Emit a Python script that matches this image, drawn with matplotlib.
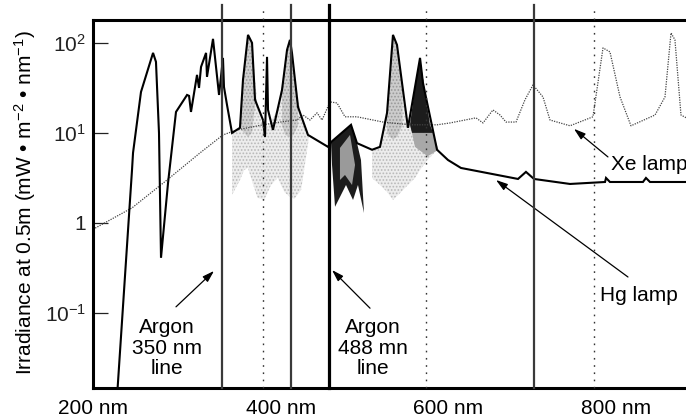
import numpy as np
import matplotlib
matplotlib.use("Agg")
import matplotlib.pyplot as plt
import matplotlib.transforms as mtransforms

plt.rcParams['font.family'] = ['Liberation Sans', 'DejaVu Sans']
plt.rcParams['mathtext.fontset'] = 'custom'
plt.rcParams['mathtext.rm'] = 'Liberation Sans'
plt.rcParams['mathtext.it'] = 'Liberation Sans:italic'
plt.rcParams['mathtext.bf'] = 'Liberation Sans:bold'
plt.rcParams['hatch.linewidth'] = 0.8

# ---------------- data (wavelength in nm, irradiance in mW m^-2 nm^-1) ----------------
hg_nm = [204, 219.7, 222.1, 223.3, 232.8, 247.2, 250.7, 254.3, 256.7, 265.1, 274.6, 287.8,
         290.2, 292.5, 299.7, 302.1, 304.5, 310.5, 311.6, 318.8, 326.0, 330.7, 331.9, 335.5,
         341.5, 351.0, 354.6, 360.6, 365.4, 369.0, 378.5, 380.9, 383.3, 384.5, 390.4, 401.2,
         407.2, 410.7, 413.1, 420.3, 432.2, 456.1, 459.7, 483.6, 490.7, 508.7, 518.2, 526.6,
         533.7, 538.5, 551.6, 566.0, 569.5, 586.3, 599.4, 614.9, 683.0, 692.5, 702.1, 745.1,
         786.9, 788.1, 792.8, 832.2, 835.8, 840.6, 884]
hg_val = [0.011, 1.8, 3.9, 6.0, 28.5, 77.4, 61.5, 10.0, 0.41, 2.78, 17.1, 26.4,
          25.8, 17.1, 44.1, 31.6, 54.1, 77.4, 41.9, 110.8, 26.4, 68.1, 32.4, 20.5,
          10.0, 11.4, 38.8, 122.7, 100, 23.3, 13.9, 9.0, 69.9, 18.0, 10.8, 30.0,
          83.6, 108, 77.4, 19.4, 9.5, 7.0, 7.9, 12.3, 7.7, 6.5, 7.0, 16.7,
          122.7, 95, 11.4, 68.1, 35.9, 6.5, 5.0, 4.08, 3.08, 3.69, 3.08, 2.71,
          2.85, 3.16, 2.85, 2.85, 3.16, 2.85, 2.85]

xe_nm = [175.5, 222.1, 263.9, 303.3, 330.7, 347.5, 378.5, 398.8, 419.1, 426.3, 434.6, 443.0,
         449.0, 458.5, 466.9, 476.4, 490.7, 521.8, 554.0, 586.3, 601.8, 632.8, 641.2, 653.1,
         661.5, 668.7, 680.6, 691.3, 700.9, 712.8, 721.2, 745.1, 772.5, 784.5, 792.8, 804.8,
         817.9, 846.6, 858.5, 865.7, 870.4, 877.6, 884]
xe_val = [0.85, 1.47, 3.0, 6.0, 9.5, 10.8, 12.3, 13.2, 13.9, 15.8, 13.9, 16.7,
          13.9, 22.1, 21.5, 15.1, 15.1, 13.2, 12.3, 12.3, 12.9, 14.7, 12.9, 18.0,
          15.8, 13.2, 13.2, 23.3, 34.1, 25.1, 13.9, 12.0, 15.1, 87.9, 79.4, 25.1,
          12.0, 15.8, 25.1, 129, 108, 15.8, 14.7]

# light stippled emission regions (lower edges; upper edge is the Hg curve)
stipA_nm = [341.5, 351, 356, 360.6, 365, 372, 380, 388, 396, 404, 410.7, 416, 424, 433]
stipA_lo = [2.05, 3.0, 3.88, 4.08, 3.0, 1.90, 1.80, 2.64, 3.16, 2.21, 1.94, 1.85, 2.33, 8.4]
coreA1_nm = [352, 356, 360.6, 365.4, 369]
coreA1_lo = [11, 10, 9, 10, 20]
coreA2_nm = [401.2, 405, 410.7, 415, 420.3]
coreA2_lo = [12, 9.5, 9, 9.5, 12]
stipB_nm = [508.7, 518.2, 526.6, 533.7, 540, 551.6, 560, 566, 575, 586.3]
stipB_lo = [3.16, 2.64, 2.21, 1.80, 2.05, 2.64, 3.16, 3.88, 5.0, 6.47]
coreB_nm = [526.6, 530, 533.7, 538.5, 545]
coreB_lo = [10, 9, 8.5, 9, 12]

# dark emission shapes
dark1_nm = [459.7, 483.6, 490.7, 495.5, 499.1, 491.9, 486.0, 477.6, 464.5, 460.9]
dark1_val = [7.94, 12.3, 7.74, 5.0, 1.29, 2.64, 1.80, 2.64, 1.51, 4.41]
dark1in_nm = [470.4, 482.4, 488.4, 484.8, 476.4, 470.4]
dark1in_val = [6.81, 9.5, 4.41, 2.64, 3.41, 3.0]
dark2_nm = [554.0, 561.2, 566.0, 570.7, 577.9, 581.5, 556.4]
dark2_val = [12.3, 38.8, 68.1, 34.1, 12.3, 10.0, 10.0]
dark2lo_nm = [556.4, 581.5, 588, 575, 560]
dark2lo_val = [10.0, 10.0, 6.5, 5.5, 7.0]

# vertical reference lines (nm)
solid_lines = [329.6, 411.9, 702.1]
thick_line = [457.3]
dotted_lines = [378.5, 573.1, 773.7]

xticks = [200, 400, 600, 800]
xtick_labels = ['200 nm', '400 nm', '600 nm', '800 nm']
yticks = [0.1, 1, 10, 100]
ytick_labels = [r'10$^{-1}$', '1', r'10$^{1}$', r'10$^{2}$']

# ---------------- figure ----------------
fig = plt.figure(figsize=(6.86, 4.17), dpi=100)
ax = fig.add_axes([93/686, 1-388/417, 593/686, 368/417])
ax.set_yscale('log')
ax.set_xlim(175.5, 883.6)
ax.set_ylim(0.01468, 179.5)

hg_nm_a = np.array(hg_nm); hg_log = np.log10(hg_val)
def hg_at(x):
    return 10 ** np.interp(x, hg_nm_a, hg_log)

def stip(xs, lo, face, dots, z):
    xs = np.array(xs)
    hi = hg_at(xs)
    ax.fill_between(xs, lo, hi, facecolor=face, edgecolor=dots, hatch='.....',
                    lw=0, zorder=z)

stip(stipA_nm, stipA_lo, '#ededed', '#b8b8b8', 1)
stip(coreA1_nm, coreA1_lo, '#d0d0d0', '#999999', 1.1)
stip(coreA2_nm, coreA2_lo, '#d0d0d0', '#999999', 1.1)
stip(stipB_nm, stipB_lo, '#ececec', '#b8b8b8', 1)
stip(coreB_nm, coreB_lo, '#cccccc', '#999999', 1.1)

ax.fill(dark1_nm, dark1_val, color='#1c1c1c', lw=0, zorder=1.2)
ax.fill(dark1in_nm, dark1in_val, color='#9a9a9a', lw=0, zorder=1.3)
ax.fill(dark2lo_nm, dark2lo_val, color='#a8a8a8', lw=0, zorder=1.2)
ax.fill(dark2_nm, dark2_val, color='#1c1c1c', lw=0, zorder=1.3)

ax.plot(xe_nm, xe_val, color='#444444', lw=0.9, ls=(0, (1, 1)), zorder=2)
ax.plot(hg_nm, hg_val, color='black', lw=1.5, zorder=3, solid_joinstyle='miter')

for x in solid_lines:
    ax.axvline(x, ymin=0, ymax=1.041, color='#3a3a3a', lw=1.6, clip_on=False, zorder=4)
for x in thick_line:
    ax.axvline(x, ymin=0, ymax=1.041, color='black', lw=2.3, clip_on=False, zorder=4)
for x in dotted_lines:
    ax.axvline(x, ymin=0, ymax=1.035, color='#333333', lw=1.0, ls=(0, (1.2, 4)),
               clip_on=False, zorder=4)

# spines / ticks
for s in ['left', 'top', 'bottom']:
    ax.spines[s].set_linewidth(2.2)
ax.spines['right'].set_visible(False)
ax.set_yticks(yticks)
ax.set_yticklabels(ytick_labels)
ax.yaxis.set_minor_locator(matplotlib.ticker.NullLocator())
ax.set_xticks(xticks)
ax.set_xticklabels(xtick_labels)
ax.tick_params(axis='y', direction='in', length=11, width=0.9, pad=5, labelsize=15,
               colors='#222222')
ax.tick_params(axis='x', length=0, pad=8, labelsize=15)
lab0 = ax.get_xticklabels()[0]
lab0.set_transform(lab0.get_transform() +
                   mtransforms.ScaledTranslation(-0.21, 0, fig.dpi_scale_trans))

ax.set_ylabel(r'Irradiance at 0.5m (mW • m$^{-2}$ • nm$^{-1}$)', fontsize=15, va='center')
ax.yaxis.set_label_coords(-0.1147, 0.503)

# annotations
arrow = dict(arrowstyle='-|>,head_length=0.7,head_width=0.22', color='black', lw=0.9,
             shrinkA=0, shrinkB=0)
ax.text(263.9, 0.0408, 'Argon\n350 nm\nline', ha='center', va='center', fontsize=15,
        linespacing=1.08)
ax.annotate('', xy=(320.0, 0.293), xytext=(274.6, 0.117), arrowprops=arrow)
ax.text(509.8, 0.0408, 'Argon\n488 mn\nline', ha='center', va='center', fontsize=15,
        linespacing=1.08)
ax.annotate('', xy=(460.9, 0.30), xytext=(506.3, 0.113), arrowprops=arrow)
ax.text(780.9, 0.158, 'Hg lamp', ha='left', va='center', fontsize=15)
ax.annotate('', xy=(656.7, 3.0), xytext=(814.3, 0.251), arrowprops=arrow)
ax.text(794.0, 4.41, 'Xe lamp', ha='left', va='center', fontsize=15)
ax.annotate('', xy=(749.8, 11.1), xytext=(790.4, 5.41), arrowprops=arrow)

fig.savefig('out.png', dpi=100)
